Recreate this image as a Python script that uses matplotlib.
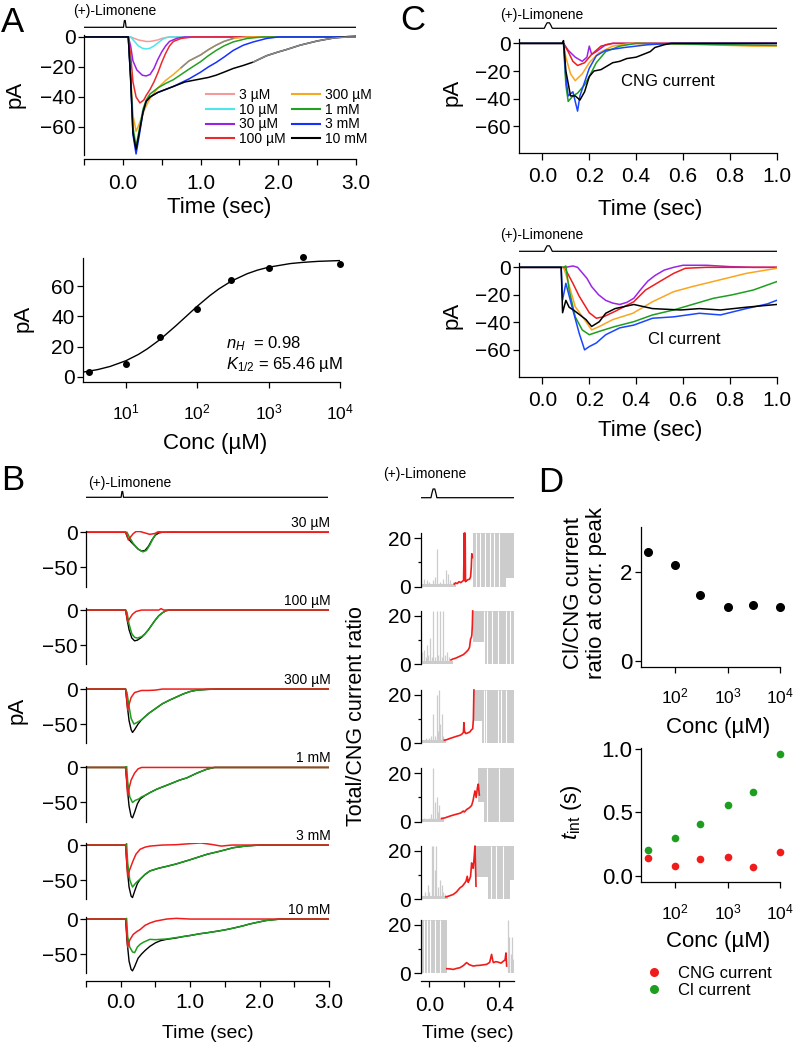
import matplotlib
matplotlib.use("Agg")
import matplotlib.pyplot as plt
from matplotlib.lines import Line2D

plt.rcParams["font.family"] = ["Liberation Sans", "DejaVu Sans"]
plt.rcParams["mathtext.fontset"] = "custom"
plt.rcParams["mathtext.rm"] = "Liberation Sans"
plt.rcParams["mathtext.it"] = "Liberation Sans:italic"
plt.rcParams["mathtext.bf"] = "Liberation Sans:bold"
plt.rcParams["axes.linewidth"] = 0.9

M = "\u2212"

# ---------------- stimulus marker ((+)-Limonene puff) ----------------
stim_t = [-0.5, 0.008, 0.014, 0.02, 0.03, 0.036, 0.042, 3.0]
stim_y = [0, 0, 0.55, 1, 1, 0.55, 0, 0]

# ---------------- A (top): current traces for each concentration ----------------
A_labels = ["3 µM", "10 µM", "30 µM", "100 µM", "300 µM", "1 mM", "3 mM", "10 mM"]
A_colors = ["#f39a9a", "#4ee6ea", "#9a22e6", "#ec2a2e", "#f7a823", "#23a023", "#1630ff", "#000000"]
A_t = [
    [-0.5, 0.1, 0.15, 0.2, 0.25, 0.3, 0.35, 0.4, 0.45, 0.5, 0.6, 3.0],
    [-0.5, 0.1, 0.15, 0.2, 0.25, 0.3, 0.35, 0.4, 0.45, 0.5, 0.55, 0.6, 3.0],
    [-0.5, 0.07, 0.1, 0.13, 0.18, 0.25, 0.3, 0.35, 0.4, 0.45, 0.5, 0.55, 0.6, 0.7, 0.8, 3.0],
    [-0.5, 0.07, 0.1, 0.13, 0.17, 0.22, 0.27, 0.3, 0.35, 0.4, 0.45, 0.5, 0.55, 0.6, 0.65, 0.75, 0.9, 3.0],
    [-0.5, 0.07, 0.1, 0.13, 0.17, 0.21, 0.26, 0.3, 0.35, 0.45, 0.55, 0.65, 0.75, 0.85, 1.0, 1.1, 1.2,
     1.3, 1.42, 1.6, 3.0],
    [-0.5, 0.07, 0.1, 0.13, 0.17, 0.21, 0.26, 0.3, 0.35, 0.45, 0.55, 0.65, 0.75, 0.85, 1.0, 1.1, 1.2,
     1.3, 1.42, 1.6, 1.8, 3.0],
    [-0.5, 0.07, 0.1, 0.13, 0.17, 0.21, 0.26, 0.3, 0.35, 0.45, 0.55, 0.65, 0.75, 0.85, 1.0, 1.1, 1.2,
     1.3, 1.42, 1.55, 1.68, 1.85, 2.0, 3.0],
    [-0.5, 0.07, 0.1, 0.13, 0.17, 0.21, 0.26, 0.3, 0.35, 0.45, 0.55, 0.65, 0.8, 1.0, 1.1, 1.2, 1.3,
     1.42, 1.55, 1.68, 1.85, 2.0, 2.1, 2.28, 2.5, 2.7, 2.9, 3.0],
]
A_pA = [
    [0, 0, -1, -2, -2.5, -3, -3, -2.5, -2, -1, 0, 0],
    [0, 0, -3, -6, -7.5, -8, -7.5, -6, -4, -2, -0.5, 0, 0],
    [0, 0, -6, -16, -22, -25.5, -26, -25, -21, -15, -10, -6, -3, -0.8, 0, 0],
    [0, 0, -12, -30, -40, -44, -42, -39, -35, -30, -24, -17, -11, -6, -3, -1, 0, 0],
    [0, 0, -25, -52, -63, -58, -51, -46, -41, -34, -29, -25, -20.5, -16, -12, -8.5, -5.5, -3, -1, 0, 0],
    [0, 0, -25, -60, -73, -62, -48, -42, -38, -34, -31, -28.5, -25, -21.5, -16.5, -12.5, -9, -6, -3.3,
     -1, 0, 0],
    [0, 0, -28, -65, -78, -66, -50, -43, -40, -37, -35, -33, -30.5, -28, -23.5, -20, -17, -13.5, -9,
     -5.5, -3.3, -1, 0, 0],
    [0, 0, -28, -64, -75, -64, -50, -43, -40, -37, -35, -33, -30, -28, -27, -25.5, -23.5, -21, -19,
     -16.7, -12.5, -10, -8.5, -5.5, -2.7, -0.8, 0.3, 0.5],
]
# grey decay fits drawn over two of the traces
A_fit_t = [[0.75, 0.85, 1.0, 1.1, 1.2, 1.3, 1.42],
           [1.68, 1.85, 2.0, 2.1, 2.28, 2.5, 2.7, 2.9, 3.0]]
A_fit_pA = [[-20.5, -16, -12, -8.5, -5.5, -3, -1],
            [-16.7, -12.5, -10, -8.5, -5.5, -2.7, -0.8, 0, 0]]

# ---------------- A (bottom): dose response ----------------
dose_conc = [3, 10, 30, 100, 300, 1000, 3000, 10000]
dose_pA = [3.3, 8.4, 26.3, 45, 64, 72.2, 79.3, 74.6]
fit_conc = [2.6, 4, 6, 10, 15, 20, 30, 50, 70, 100, 150, 200, 300, 500, 700, 1000, 2000, 3000, 5000, 10000]
fit_pA = [3.15, 4.7, 6.8, 10.6, 14.8, 18.5, 24.6, 33.7, 40.0, 46.7, 53.7, 58.1, 63.3, 68.2, 70.6,
          72.5, 74.9, 75.7, 76.4, 76.9]

# ---------------- B (left): total / Cl / CNG currents ----------------
B_conc = ["30 µM", "100 µM", "300 µM", "1 mM", "3 mM", "10 mM"]
B_tot_t = [
    [-0.5, 0.07, 0.1, 0.15, 0.2, 0.25, 0.3, 0.35, 0.4, 0.45, 0.5, 0.55, 0.6, 3.0],
    [-0.5, 0.07, 0.09, 0.12, 0.16, 0.2, 0.24, 0.3, 0.35, 0.4, 0.45, 0.5, 0.55, 0.6, 0.65, 0.7, 3.0],
    [-0.5, 0.07, 0.09, 0.12, 0.15, 0.17, 0.2, 0.25, 0.3, 0.4, 0.5, 0.6, 0.7, 0.8, 0.9, 1.0, 1.1, 1.25,
     1.4, 3.0],
    [-0.5, 0.07, 0.09, 0.12, 0.15, 0.17, 0.2, 0.24, 0.28, 0.35, 0.42, 0.52, 0.7, 0.85, 0.95, 1.1, 1.24,
     1.35, 3.0],
    [-0.5, 0.07, 0.09, 0.12, 0.15, 0.17, 0.2, 0.24, 0.28, 0.35, 0.42, 0.55, 0.66, 0.8, 0.9, 1.0, 1.14,
     1.25, 1.38, 1.5, 1.62, 1.8, 2.0, 3.0],
    [-0.5, 0.07, 0.09, 0.12, 0.15, 0.17, 0.2, 0.25, 0.3, 0.35, 0.42, 0.5, 0.57, 0.66, 0.8, 0.9, 1.0,
     1.14, 1.25, 1.38, 1.5, 1.62, 1.75, 1.86, 2.0, 2.1, 2.3, 3.0],
]
B_tot_pA = [
    [0, 0, -8, -14, -19, -24, -27, -26, -20, -11, -4, -1, 0, 0],
    [0, 0, -12, -28, -40, -44, -43, -39, -34, -28, -21, -14, -8, -4, -1, 0, 0],
    [0, 0, -20, -45, -58, -62, -58, -50, -44, -35, -28, -21, -16, -11.5, -7, -3.5, -1.5, -0.5, 0, 0],
    [0, 0, -25, -55, -70, -72, -64, -52, -45, -40, -36, -31, -24, -18, -15, -8, -2.5, 0, 0],
    [0, 0, -30, -60, -73, -75, -66, -55, -49, -42, -37, -33, -30.5, -27, -24, -21, -16.5, -13, -10, -7,
     -3.8, -1.4, 0, 0],
    [0, 0, -30, -60, -72, -74, -68, -56, -50, -45, -39, -34, -31, -29, -27, -25, -23.5, -21, -19.5,
     -17.5, -15.5, -13, -10, -7, -4, -2, 0, 0],
]
B_cl_t = [
    [-0.5, 0.09, 0.12, 0.18, 0.25, 0.32, 0.37, 0.42, 0.47, 0.52, 0.6, 0.7, 0.8, 0.9, 3.0],
    [-0.5, 0.07, 0.09, 0.12, 0.16, 0.2, 0.24, 0.3, 0.35, 0.4, 0.45, 0.5, 0.55, 0.6, 0.65, 0.7, 3.0],
    [-0.5, 0.07, 0.09, 0.12, 0.15, 0.19, 0.23, 0.3, 0.4, 0.5, 0.6, 0.7, 0.8, 0.9, 1.0, 1.1, 1.25, 1.4, 3.0],
    [-0.5, 0.07, 0.085, 0.1, 0.13, 0.17, 0.21, 0.26, 0.3, 0.35, 0.42, 0.52, 0.7, 0.85, 0.95, 1.1, 1.24,
     1.35, 3.0],
    [-0.5, 0.07, 0.085, 0.1, 0.13, 0.17, 0.21, 0.24, 0.28, 0.35, 0.42, 0.55, 0.66, 0.8, 0.9, 1.0, 1.14,
     1.25, 1.38, 1.5, 1.62, 1.8, 2.0, 3.0],
    [-0.5, 0.07, 0.085, 0.1, 0.13, 0.17, 0.2, 0.24, 0.28, 0.33, 0.42, 0.5, 0.57, 0.66, 0.8, 0.9, 1.0,
     1.14, 1.25, 1.38, 1.5, 1.62, 1.75, 1.86, 2.0, 2.1, 2.3, 3.0],
]
B_cl_pA = [
    [0, 0, -6, -16, -24, -28, -26, -18, -8, 0, 2.5, 2, 0.5, 0, 0],
    [0, 0, -3, -20, -34, -39, -40, -38, -34, -28, -21, -14, -8, -4, -1, 0, 0],
    [0, 0, -5, -25, -42, -50, -48, -44, -35, -28, -21, -16, -11.5, -7, -3.5, -1.5, -0.5, 0, 0],
    [0, 0, 2, -20, -42, -50, -47, -45, -42, -40, -36, -31, -24, -18, -15, -8, -2.5, 0, 0],
    [0, 0, 2, -25, -50, -60, -55, -52, -48.6, -42, -37, -33, -30.5, -27, -24, -21, -16.5, -13, -10, -7,
     -3.8, -1.4, 0, 0],
    [0, 0, 1, -25, -40, -47, -48, -40, -36, -33, -29, -29.5, -29, -28.5, -26.5, -25, -23.5, -21, -19.5,
     -17.5, -15.5, -13, -10, -7, -4, -2, 0, 0],
]
B_cng_t = [
    [-0.5, 0.07, 0.09, 0.11, 0.14, 0.18, 0.22, 0.28, 0.35, 0.42, 0.48, 0.55, 3.0],
    [-0.5, 0.07, 0.09, 0.1, 0.13, 0.17, 0.22, 0.3, 0.55, 0.58, 0.62, 3.0],
    [-0.5, 0.07, 0.085, 0.1, 0.12, 0.15, 0.2, 0.3, 0.4, 0.5, 0.6, 3.0],
    [-0.5, 0.07, 0.085, 0.1, 0.12, 0.15, 0.2, 0.25, 0.3, 3.0],
    [-0.5, 0.07, 0.085, 0.1, 0.13, 0.18, 0.22, 0.28, 0.35, 0.42, 0.6, 0.8, 1.0, 1.15, 1.3, 1.45, 1.6, 3.0],
    [-0.5, 0.07, 0.085, 0.1, 0.13, 0.18, 0.23, 0.28, 0.35, 0.42, 0.5, 0.66, 0.8, 1.0, 3.0],
]
B_cng_pA = [
    [0, 0, -4, -11, -7, -2, 1, 1, -1, -3, -2, 0, 0],
    [0, 0, -10, -17, -12, -6, -2, 0, 0, 2, 0, 0],
    [0, 0, -12, -30, -22, -12, -5, -2, -2, -1.5, 0, 0],
    [0, 0, -15, -40, -30, -18, -8, -2, 0, 0],
    [0, 0, -20, -45, -35, -22, -13, -6, -3, -1.5, 0, 0.5, 2, 3, 1, -1.5, 0, 0],
    [0, 0, -15, -40, -30, -22, -18, -15, -9, -5.7, -3, 0, 1, 0, 0],
]

# ---------------- B (right): Total/CNG ratio ----------------
R_red_t = [
    [0.143, 0.15, 0.16, 0.17, 0.18, 0.19, 0.196, 0.198, 0.2, 0.202, 0.205, 0.207, 0.21, 0.22, 0.23,
     0.236, 0.24, 0.243, 0.246],
    [0.124, 0.135, 0.15, 0.165, 0.18, 0.195, 0.21, 0.222, 0.23, 0.236, 0.24, 0.243, 0.246, 0.248],
    [0.086, 0.1, 0.118, 0.135, 0.156, 0.175, 0.185, 0.195, 0.198, 0.201, 0.208, 0.22, 0.232, 0.24,
     0.248, 0.252, 0.255],
    [0.07, 0.09, 0.118, 0.14, 0.166, 0.18, 0.194, 0.2, 0.213, 0.23, 0.242, 0.25, 0.256, 0.261, 0.268,
     0.275, 0.28, 0.286],
    [0.095, 0.11, 0.137, 0.155, 0.175, 0.19, 0.204, 0.21, 0.217, 0.222, 0.229, 0.236, 0.242, 0.248,
     0.251, 0.256, 0.261, 0.264, 0.267],
    [0.1, 0.12, 0.137, 0.155, 0.175, 0.195, 0.213, 0.23, 0.251, 0.27, 0.29, 0.31, 0.328, 0.345, 0.356,
     0.362, 0.366, 0.38, 0.394, 0.41, 0.423, 0.433, 0.438, 0.442],
]
R_red_y = [
    [1.0, 1.5, 1.2, 2.0, 1.6, 2.2, 2.5, 12, 22, 2.5, 22, 2.0, 2.2, 2.8, 3.0, 4.0, 8, 13.5, 12],
    [1.8, 2.2, 2.5, 3.0, 3.5, 4.0, 5.0, 5.9, 7, 10.5, 11, 12, 16, 22],
    [1.3, 1.5, 2.0, 2.4, 2.9, 3.3, 3.7, 4.5, 8.5, 5, 4.0, 4.3, 4.7, 5.5, 6, 10, 22],
    [1.3, 1.6, 2.3, 2.8, 3.3, 3.6, 4.4, 4.0, 5.0, 5.8, 6.7, 8.7, 11, 12.7, 10, 14, 15.5, 11],
    [1.0, 1.3, 2.0, 3.0, 4.7, 5.5, 6.8, 7.5, 9.5, 7.0, 8.0, 9.5, 15, 13, 12.8, 17, 22, 14, 5.4],
    [1.9, 1.8, 1.6, 2.0, 2.3, 3.2, 4.4, 3.5, 3.0, 3.2, 3.3, 3.5, 3.7, 4.5, 7.8, 5.5, 4.4, 4.8, 4.6,
     4.2, 5.0, 5.5, 8.4, 3.0],
]
# grey (noisy) part of the ratio: baseline end, single spikes, saturated bands and gaps in them
R_base_end = [0.143, 0.124, 0.086, 0.07, 0.095, -0.045]
R_spike_t = [
    [-0.045, -0.03, -0.012, -0.002, 0.02, 0.032, 0.046, 0.06, 0.078, 0.095, 0.107, 0.12, 0.135],
    [-0.047, -0.04, -0.033, -0.02, -0.011, -0.005, 0.004, 0.015, 0.023, 0.032, 0.042, 0.05, 0.06, 0.07,
     0.08, 0.09, 0.1, 0.114],
    [-0.04, -0.02, 0.0, 0.01, 0.021, 0.03, 0.042, 0.05, 0.057, 0.064, 0.07, 0.078],
    [-0.03, 0.0, 0.01, 0.019, 0.03, 0.042, 0.05, 0.057, 0.065],
    [-0.045, -0.025, -0.01, 0.0, 0.013, 0.022, 0.03, 0.04, 0.05, 0.06, 0.07, 0.08, 0.09],
    [-0.047, 0.448, 0.455, 0.465, 0.475, 0.48],
]
R_spike_h = [
    [2, 3, 2.5, 2, 2.5, 4, 15.5, 2, 3, 7, 5, 2.5, 2],
    [13, 5, 6, 3, 8, 4, 11, 3, 22, 3, 22, 4, 22, 3, 22, 4, 5, 3],
    [1.5, 2, 2, 3, 12, 3, 20, 5, 22, 8, 12, 3],
    [1.5, 1.5, 3, 22, 8, 10, 4, 7, 2],
    [2, 3, 6, 3, 22, 22, 12, 22, 5, 8, 6, 3, 2],
    [10, 22, 15, 8, 15, 6],
]
R_band_t0 = [[0.248, 0.44], [0.25, 0.31], [0.255, 0.3], [0.28, 0.31], [0.267, 0.337, 0.46], [-0.045]]
R_band_t1 = [[0.44, 0.484], [0.31, 0.484], [0.3, 0.484], [0.31, 0.484], [0.337, 0.46, 0.484], [0.1]]
R_band_lo = [[0, 3.5], [9, 0], [9, 0], [8, 0], [9, 0, 8], [0]]
R_gaps = [
    [0.265, 0.29, 0.32, 0.345, 0.37, 0.4],
    [0.315, 0.33, 0.36, 0.39, 0.44, 0.46],
    [0.31, 0.325, 0.39, 0.41, 0.44],
    [0.33, 0.4],
    [0.35, 0.38, 0.42],
    [-0.03, -0.015, 0.005, 0.03, 0.06],
]

# ---------------- C: CNG and Cl currents ----------------
C_colors = ["#9b24e8", "#f01c1c", "#f9a51f", "#1e9e1e", "#1a46ff", "#000000"]
C_cng_t = [
    [-0.1, 0.09, 0.11, 0.14, 0.17, 0.19, 0.2, 0.21, 0.23, 0.27, 0.3, 1.0],
    [-0.1, 0.09, 0.11, 0.13, 0.15, 0.18, 0.21, 0.25, 0.3, 1.0],
    [-0.1, 0.09, 0.1, 0.12, 0.14, 0.17, 0.2, 0.24, 0.3, 0.38, 0.7, 0.9, 1.0],
    [-0.1, 0.09, 0.1, 0.11, 0.13, 0.15, 0.18, 0.2, 0.23, 0.27, 0.33, 0.4, 0.8, 1.0],
    [-0.1, 0.09, 0.1, 0.11, 0.13, 0.15, 0.16, 0.18, 0.2, 0.23, 0.27, 0.35, 0.45, 0.55, 1.0],
    [-0.1, 0.085, 0.09, 0.1, 0.12, 0.14, 0.16, 0.18, 0.2, 0.22, 0.25, 0.28, 0.3, 0.33, 0.36, 0.4, 0.43,
     0.46, 0.48, 0.52, 0.55, 1.0],
]
C_cng_pA = [
    [0, 0, -5, -10, -13, -10, -2, -8, -6, -1, 0, 0],
    [0, 0, -6, -13, -16, -14, -8, -2, 0, 0],
    [0, 0, -10, -22, -27, -22, -14, -7, -2, 0, -1, -2, -2],
    [0, 0, -30, -42, -38, -36, -30, -24, -14, -6, -2, 0, -1, -1.5],
    [0, 0, -25, -38, -35, -49, -38, -28, -18, -9, -5, -3, -1, 0, 0],
    [0, 0, 2, -20, -38, -38, -41, -35, -24, -20, -19, -16, -14, -13, -11, -10, -8, -6, -3, -1, 0, 0],
]
C_cl_t = [
    [-0.1, 0.1, 0.13, 0.15, 0.17, 0.19, 0.21, 0.24, 0.27, 0.3, 0.33, 0.36, 0.39, 0.42, 0.45, 0.48, 0.52,
     0.56, 0.6, 0.7, 0.8, 0.9, 1.0],
    [-0.1, 0.09, 0.1, 0.13, 0.157, 0.2, 0.23, 0.26, 0.31, 0.39, 0.44, 0.5, 0.56, 0.61, 0.7, 1.0],
    [-0.1, 0.09, 0.1, 0.14, 0.186, 0.21, 0.243, 0.3, 0.386, 0.47, 0.56, 0.64, 0.76, 0.87, 1.0],
    [-0.1, 0.09, 0.1, 0.114, 0.14, 0.17, 0.2, 0.24, 0.31, 0.39, 0.47, 0.56, 0.64, 0.73, 0.81, 0.9, 1.0],
    [-0.1, 0.08, 0.086, 0.1, 0.13, 0.157, 0.18, 0.2, 0.23, 0.27, 0.33, 0.39, 0.47, 0.56, 0.67, 0.76,
     0.87, 0.96, 1.0],
    [-0.1, 0.08, 0.086, 0.1, 0.114, 0.14, 0.186, 0.21, 0.243, 0.27, 0.31, 0.39, 0.47, 0.59, 0.67, 0.76,
     0.87, 1.0],
]
C_cl_pA = [
    [0, 0, 1, 0, -4, -8, -14, -20, -24, -26, -27, -25.5, -22.5, -16, -10, -6, -2, 0, 1.5, 1.5, 0.5, 0, 0],
    [0, 0, -2, -11.6, -21, -33, -37, -36, -32, -25, -16.5, -10.4, -4.4, -0.7, 0, 0],
    [0, 0, -5, -28.6, -39.5, -45.5, -43, -38, -33.4, -25, -17.7, -14, -9, -4.4, -0.7],
    [0, 0, 1, -16.5, -36, -45.5, -49, -46.7, -43, -39.5, -34.6, -31, -27, -22.5, -20, -16.5, -10.4],
    [0, 0, -23.7, -11.6, -31, -48, -60, -57.6, -55, -49, -44, -42, -37, -36, -33.4, -34.6, -30, -26.6, -24],
    [0, 0, -33, -24, -29, -32, -38, -43, -39.5, -33.4, -30, -27, -30, -31, -30, -31, -29, -27],
]

# ---------------- D ----------------
D_conc = [30, 100, 300, 1000, 3000, 10000]
D_ratio = [2.45, 2.16, 1.48, 1.21, 1.25, 1.22]
D_tint_cng = [0.136, 0.076, 0.134, 0.149, 0.071, 0.183]
D_tint_cl = [0.20, 0.30, 0.41, 0.56, 0.66, 0.96]
D_legend = ["CNG current", "Cl current"]

W, H = 793, 1047
fig = plt.figure(figsize=(W / 100, H / 100), dpi=100)
RED = "#f01c1c"
GREEN = "#1e9e1e"
GREY = "#cccccc"


def add_ax(x0, y0, x1, y1):
    return fig.add_axes([x0 / W, 1 - y1 / H, (x1 - x0) / W, (y1 - y0) / H])


def ftext(x, y, s, **kw):
    fig.text(x / W, 1 - y / H, s, **kw)


def style(ax, fs=15):
    ax.spines["top"].set_visible(False)
    ax.spines["right"].set_visible(False)
    ax.tick_params(which="both", direction="out", length=4, width=0.9, labelsize=fs)
    ax.tick_params(axis="y", pad=2)


def stim(x0, x1, y_line, y_top, xlim):
    h = y_line - y_top
    sa = add_ax(x0, y_top - 0.3 * h, x1, y_line + 0.3 * h)
    sa.plot(stim_t, stim_y, color="k", lw=0.9)
    sa.set_xlim(xlim)
    sa.set_ylim(-0.3, 1.3)
    sa.axis("off")


def ticks(ax, axis, major, labels, minor=None):
    if axis == "x":
        ax.set_xticks(major)
        ax.set_xticklabels(labels)
        ax.set_xticks(minor or [], minor=True)
    else:
        ax.set_yticks(major)
        ax.set_yticklabels(labels)
        ax.set_yticks(minor or [], minor=True)


# ======== A top ========
ax = add_ax(84, 35, 356, 155)
style(ax)
for t, y, c in zip(A_t, A_pA, A_colors):
    ax.plot(t, y, color=c, lw=1.1)
for t, y in zip(A_fit_t, A_fit_pA):
    ax.plot(t, y, color="#8a8a8a", lw=1.1)
ax.set_xlim(-0.5, 3.0)
ax.set_ylim(-78.7, 1.3)
ax.spines["bottom"].set_position(("outward", 2.9))
ticks(ax, "x", [0, 1, 2, 3], ["0.0", "1.0", "2.0", "3.0"], [-0.5, 0.5, 1.5, 2.5])
ticks(ax, "y", [0, -20, -40, -60], ["0", M + "20", M + "40", M + "60"])
ax.tick_params(axis="x", pad=6.5)
handles = [Line2D([], [], color=c, lw=1.5) for c in A_colors]
fig.legend(handles, A_labels, ncol=2, loc="upper left", bbox_to_anchor=(206 / W, 1 - 88 / H),
           frameon=False, fontsize=10, handlelength=2.0, handletextpad=0.35, labelspacing=0.05,
           columnspacing=0.5, borderpad=0, borderaxespad=0)
stim(84, 356, 27.3, 20.5, (-0.5, 3.0))
ftext(73, 11, "(+)-Limonene", fontsize=10, ha="left", va="center")
ftext(15.5, 94, "pA", fontsize=16, rotation=90, ha="center", va="center")
ftext(219, 208, "Time (sec)", fontsize=16, ha="center", va="center")
ftext(12.5, 22, "A", fontsize=25, ha="center", va="center")

# ======== A bottom ========
ax = add_ax(83, 257.7, 340, 381.7)
style(ax)
ax.set_xscale("log")
ax.plot(fit_conc, fit_pA, color="k", lw=1.0)
ax.plot(dose_conc, dose_pA, "o", color="k", ms=4, clip_on=False)
ax.set_xlim(2.5, 1e4)
ax.set_ylim(-3.3, 78.8)
ticks(ax, "x", [10, 100, 1000, 10000], [r"$10^{1}$", r"$10^{2}$", r"$10^{3}$", r"$10^{4}$"])
ticks(ax, "y", [0, 20, 40, 60], ["0", "20", "40", "60"])
ax.tick_params(axis="x", labelsize=12.5, pad=11)
ftext(226, 343.5, r"$n_H$  = 0.98", fontsize=12, ha="left", va="center")
ftext(226, 365, r"$K_{\mathrm{1/2}}$ = 65.46 µM", fontsize=12, ha="left", va="center")
ftext(23, 318, "pA", fontsize=16, rotation=90, ha="center", va="center")
ftext(215, 443, "Conc (µM)", fontsize=16, ha="center", va="center")

# ======== B ========
rows_bottom = [586.5, 664.3, 743.3, 821.7, 899.3, 973.3]
for i in range(6):
    yb = rows_bottom[i]
    # left: currents
    ax = add_ax(86, yb - 56, 329, yb)
    style(ax)
    ax.plot(B_tot_t[i], B_tot_pA[i], color="k", lw=1.0)
    ax.plot(B_cl_t[i], B_cl_pA[i], color=GREEN, lw=1.1)
    ax.plot(B_cng_t[i], B_cng_pA[i], color=RED, lw=1.1)
    ax.set_xlim(-0.5, 3.0)
    ax.set_ylim(-77.5, 2.5)
    ticks(ax, "y", [0, -50], ["0", M + "50"])
    ax.text(3.02, 13, B_conc[i], fontsize=10, ha="right", va="center")
    if i < 5:
        ax.spines["bottom"].set_visible(False)
        ax.set_xticks([])
    else:
        ax.spines["bottom"].set_position(("outward", 5.8))
        ticks(ax, "x", [0, 1, 2, 3], ["0.0", "1.0", "2.0", "3.0"], [-0.5, 0.5, 1.5, 2.5])
        ax.tick_params(axis="x", pad=4.5)

    # right: ratio
    ax = add_ax(420.7, yb - 56, 514, yb)
    style(ax)
    for t0, t1, lo in zip(R_band_t0[i], R_band_t1[i], R_band_lo[i]):
        ax.fill_between([t0, t1], [lo, lo], [22, 22], color=GREY, lw=0)
    ax.vlines(R_gaps[i], 0, 22, colors="white", lw=0.8)
    if R_base_end[i] > -0.045:
        ax.plot([-0.049, R_base_end[i]], [0.8, 0.8], color=GREY, lw=2.2)
    ax.vlines(R_spike_t[i], 0, R_spike_h[i], colors=GREY, lw=0.9)
    ax.plot(R_red_t[i], R_red_y[i], color=RED, lw=1.2)
    ax.set_xlim(-0.049, 0.484)
    ax.set_ylim(0, 23.1)
    ax.spines["left"].set_bounds(0, 22)
    ticks(ax, "y", [0, 20], ["0", "20"], [10])
    ax.tick_params(axis="y", which="minor", length=2)
    ax.tick_params(axis="y", which="major", length=5)
    if i < 5:
        ax.spines["bottom"].set_visible(False)
        ax.set_xticks([])
    else:
        ax.spines["bottom"].set_position(("outward", 5.3))
        ticks(ax, "x", [0, 0.4], ["0.0", "0.4"], [0.2])
        ax.tick_params(axis="x", pad=7)

stim(86, 328, 497.3, 491.5, (-0.5, 3.0))
stim(421, 514, 497.7, 489, (-0.049, 0.484))
ftext(88, 483, "(+)-Limonene", fontsize=10, ha="left", va="center")
ftext(383, 474, "(+)-Limonene", fontsize=10, ha="left", va="center")
ftext(17.5, 710, "pA", fontsize=16, rotation=90, ha="center", va="center")
ftext(207.5, 1034, "Time (sec)", fontsize=14, ha="center", va="center")
ftext(357, 716, "Total/CNG current ratio", fontsize=15.5, rotation=90, ha="center", va="center")
ftext(468, 1033, "Time (sec)", fontsize=14, ha="center", va="center")
ftext(12.5, 480, "B", fontsize=25, ha="center", va="center")

# ======== C ========
for k, (tt, yy, top, bottom, y_line, y_lim_txt, y_time, y_pa, txt, txy) in enumerate([
        (C_cng_t, C_cng_pA, 39.2, 153.3, 28.3, 15, 209, 92.5, "CNG current", (0.337, -27.7)),
        (C_cl_t, C_cl_pA, 263.2, 376.7, 251.3, 235, 431, 315, "Cl current", (0.449, -52.8))]):
    ax = add_ax(519, top, 776.7, bottom)
    style(ax)
    for t, y, c in zip(tt, yy, C_colors):
        ax.plot(t, y, color=c, lw=1.1)
    ax.set_xlim(-0.1, 1.0)
    ax.set_ylim(-79.5, 3)
    ticks(ax, "x", [0, 0.2, 0.4, 0.6, 0.8, 1.0], ["0.0", "0.2", "0.4", "0.6", "0.8", "1.0"])
    ticks(ax, "y", [0, -20, -40, -60], ["0", M + "20", M + "40", M + "60"])
    ax.tick_params(axis="x", length=5, pad=5)
    ax.text(txy[0], txy[1], txt, fontsize=12, ha="left", va="center")
    stim(519, 776.7, y_line, y_line - 5.5, (-0.1, 1.0))
    ftext(500, y_lim_txt, "(+)-Limonene", fontsize=10, ha="left", va="center")
    ftext(452.5, y_pa, "pA", fontsize=16, rotation=90, ha="center", va="center")
    ftext(650, y_time, "Time (sec)", fontsize=16, ha="center", va="center")
ftext(412.5, 20, "C", fontsize=25, ha="center", va="center")

# ======== D ========
ax = add_ax(641, 527.3, 780, 667.3)
style(ax, 16)
ax.set_xscale("log")
ax.plot(D_conc, D_ratio, "o", color="k", ms=5.5, clip_on=False)
ax.set_xlim(22.5, 1e4)
ax.set_ylim(-0.14, 3.0)
ticks(ax, "x", [100, 1000, 10000], [r"$10^{2}$", r"$10^{3}$", r"$10^{4}$"])
ticks(ax, "y", [0, 2], ["0", "2"])
ax.tick_params(axis="x", labelsize=12.5, pad=10)
ftext(585, 593, "Cl/CNG current\nratio at corr. peak", fontsize=16, rotation=90, ha="center",
      va="center", multialignment="center", linespacing=1.15)
ftext(718, 728, "Conc (µM)", fontsize=16, ha="center", va="center")

ax = add_ax(641, 748, 780, 881.7)
style(ax, 16)
ax.set_xscale("log")
ax.plot(D_conc, D_tint_cng, "o", color=RED, ms=5.5, mec="none", clip_on=False)
ax.plot(D_conc, D_tint_cl, "o", color=GREEN, ms=5.5, mec="none", clip_on=False)
ax.set_xlim(22.5, 1e4)
ax.set_ylim(-0.047, 1.005)
ticks(ax, "x", [100, 1000, 10000], [r"$10^{2}$", r"$10^{3}$", r"$10^{4}$"])
ticks(ax, "y", [0, 0.5, 1.0], ["0.0", "0.5", "1.0"])
ax.tick_params(axis="x", labelsize=12.5, pad=11)
ftext(572, 812, r"$t_{\mathrm{int}}$ (s)", fontsize=16, rotation=90, ha="center", va="center")
ftext(718, 942, "Conc (µM)", fontsize=16, ha="center", va="center")
hd = [Line2D([], [], ls="none", marker="o", ms=6.5, mfc=c, mec="none") for c in (RED, GREEN)]
fig.legend(hd, D_legend, loc="upper left", bbox_to_anchor=(646 / W, 1 - 966 / H), frameon=False,
           fontsize=12, handlelength=1.0, handletextpad=0.9, labelspacing=0.1, borderpad=0,
           borderaxespad=0)
ftext(551, 482, "D", fontsize=25, ha="center", va="center")

fig.savefig("out.png", dpi=100)
